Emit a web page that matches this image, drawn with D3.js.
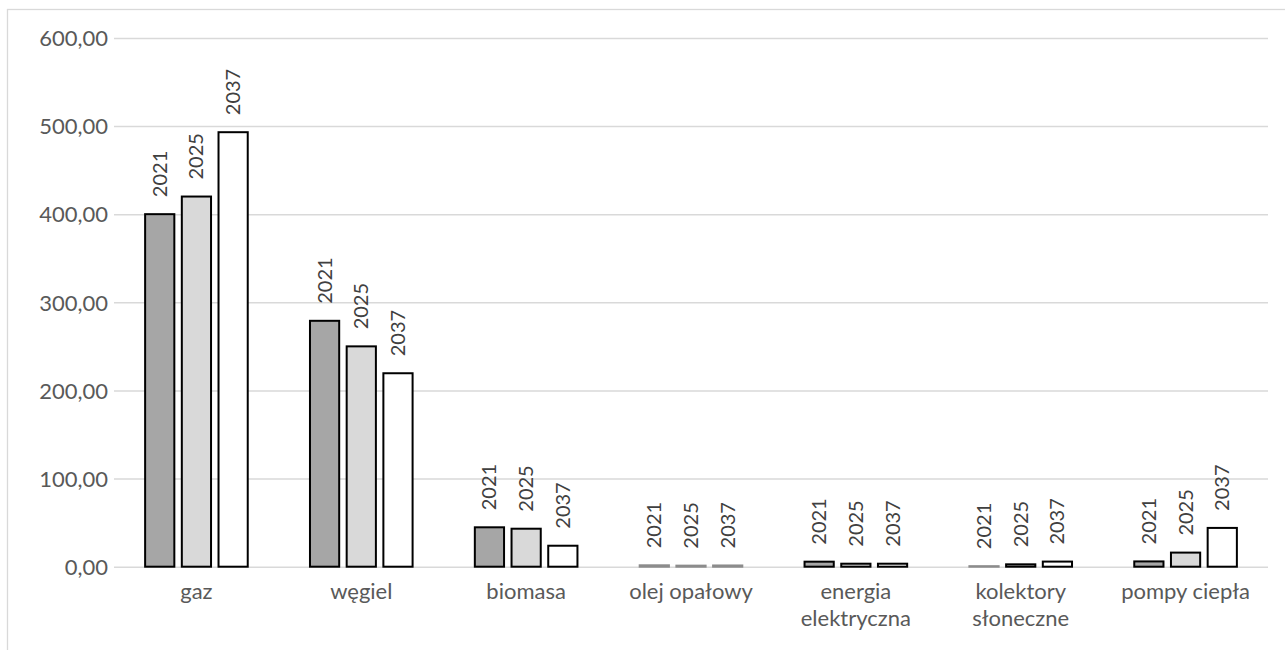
<!DOCTYPE html>
<html>
<head>
<meta charset="utf-8">
<script src="https://cdn.jsdelivr.net/npm/d3@7"></script>
<style>
  html, body { margin: 0; padding: 0; background: #fff; }
  svg { display: block; font-family: Lato, "Open Sans", sans-serif; }
</style>
</head>
<body>
<svg id="chart" width="1285" height="650"></svg>
<script>
// Heating sources and consumption per year
const categories = ["gaz", "węgiel", "biomasa", "olej opałowy", "energia\nelektryczna", "kolektory\nsłoneczne", "pompy ciepła"];
const seriesNames = ["2021", "2025", "2037"];
const values2021 = [400, 279, 44.7, 1.6, 5.7, 0.6, 6.0];
const values2025 = [420, 250, 43.1, 1.2, 3.4, 2.7, 16.0];
const values2037 = [493, 219.5, 23.8, 1.4, 3.4, 5.8, 44.0];
const yTicks = [0, 100, 200, 300, 400, 500, 600];

const seriesValues = [values2021, values2025, values2037];
const seriesFill = ["#a6a6a6", "#d9d9d9", "#ffffff"];

const svg = d3.select("#chart");

// outer chart frame
svg.append("rect")
  .attr("x", 7.5).attr("y", 9.5)
  .attr("width", 1300).attr("height", 700)
  .attr("fill", "none").attr("stroke", "#d9d9d9").attr("stroke-width", 1.3);

const plot = { left: 114, right: 1268, top: 37.9, bottom: 566.7 };

const y = d3.scaleLinear().domain([0, 600]).range([plot.bottom, plot.top]);
const x = d3.scaleBand().domain(categories).range([plot.left, plot.right]).padding(0);
const xs = d3.scaleBand().domain(seriesNames).range([0, x.bandwidth()])
  .paddingInner(0.204).paddingOuter(0.848);

// gridlines + y labels
const yAxis = d3.axisLeft(y).tickValues(yTicks).tickSize(0).tickPadding(0)
  .tickFormat(d => d3.format(".2f")(d).replace(".", ","));
const gy = svg.append("g").attr("transform", `translate(${plot.left},0)`).call(yAxis);
gy.select(".domain").remove();
gy.selectAll(".tick line").clone()
  .attr("x2", plot.right - plot.left)
  .attr("stroke", "#d9d9d9").attr("stroke-width", 1.5);
gy.selectAll(".tick text")
  .attr("x", -6)
  .attr("dy", "0.35em")
  .attr("fill", "#595959")
  .style("font-size", "22px")
  .style("font-family", "Lato, sans-serif");

// bars
const rows = [];
categories.forEach((c, i) => {
  seriesNames.forEach((s, j) => rows.push({ cat: c, series: s, v: seriesValues[j][i], fill: seriesFill[j] }));
});

const groups = svg.append("g");
groups.selectAll("rect.bar").data(rows).join("rect")
  .attr("class", "bar")
  .attr("x", d => x(d.cat) + xs(d.series))
  .attr("y", d => y(d.v))
  .attr("width", xs.bandwidth())
  .attr("height", d => y(0) - y(d.v))
  .attr("fill", d => d.fill)
  .attr("stroke", d => d.v < 1.8 ? "#8c8c8c" : "#000")
  .attr("stroke-width", 2);

// series-name data labels
groups.selectAll("text.lbl").data(rows).join("text")
  .attr("class", "lbl")
  .attr("transform", d => `translate(${x(d.cat) + xs(d.series) + xs.bandwidth() / 2 + 7},${y(d.v) - 17}) rotate(-90)`)
  .attr("fill", "#404040")
  .style("font-size", "20px")
  .text(d => d.series);

// category labels
const gx = svg.append("g");
categories.forEach(c => {
  const lines = c.split("\n");
  const t = gx.append("text")
    .attr("x", x(c) + x.bandwidth() / 2)
    .attr("y", 599)
    .attr("text-anchor", "middle")
    .attr("fill", "#595959")
    .style("font-size", "22px");
  lines.forEach((ln, k) => t.append("tspan")
    .attr("x", x(c) + x.bandwidth() / 2)
    .attr("dy", k === 0 ? 0 : 27)
    .text(ln));
});
</script>
</body>
</html>
